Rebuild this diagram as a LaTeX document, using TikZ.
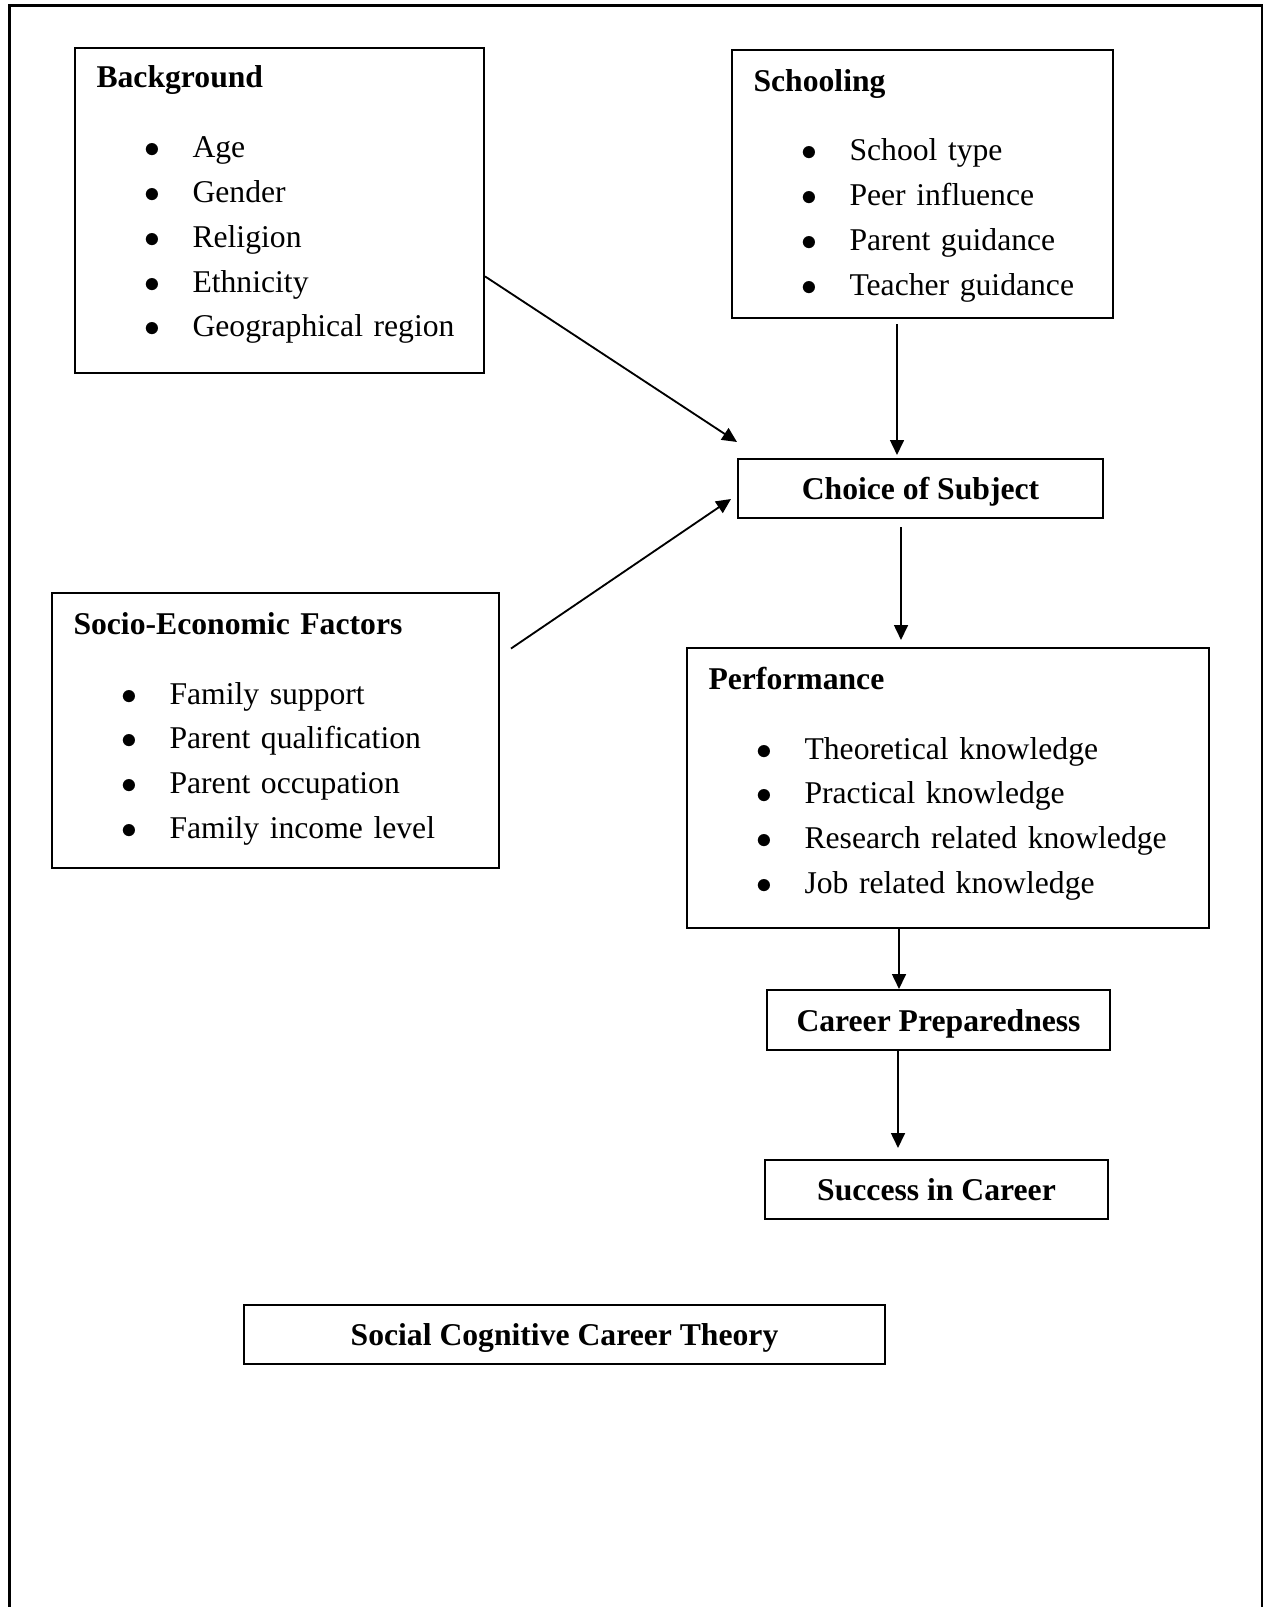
\documentclass[tikz,border=0pt]{standalone}
\usepackage{fontspec}
\setmainfont{Liberation Serif}
\usetikzlibrary{arrows.meta}

\newdimen\px \px=0.379pt
\newcommand{\bitem}[1]{\hspace*{48\px}\makebox[48\px][l]{$\bullet$}#1}

\begin{document}
\begin{tikzpicture}[
    x=0.379pt, y=-0.379pt,
    >={Triangle[length=5.6pt, width=5.2pt]},
    every node/.style={font=\fontsize{12pt}{16.94pt}\selectfont},
    listbox/.style = {rectangle, draw=black, line width=0.76pt,
anchor=north west, align=left, inner xsep=21.5\px, inner ysep=0pt},
    labelbox/.style = {rectangle, draw=black, line width=0.76pt,
anchor=north west, inner sep=0pt, text height=8.6pt, text depth=0pt,
font=\fontsize{12pt}{16.94pt}\selectfont\bfseries},
    link/.style = {->, line width=0.7pt}
]
  \useasboundingbox (0,0) rectangle (1264,1607);
  \draw[line width=1pt] (9.5,1607) -- (9.5,5.5) -- (1262,5.5) -- (1262,1607);

  \node (background) [listbox, text width=366\px] at (74,47) {\rule{0pt}{40\px}\textbf{Background}\\[25.3\px]
    \bitem{Age}\\ \bitem{Gender}\\ \bitem{Religion}\\ \bitem{Ethnicity}\\
    \bitem{Geographical region}\rule[-36\px]{0pt}{36\px}};
  \node (school) [listbox, text width=338\px] at (731,49) {\rule{0pt}{42\px}\textbf{Schooling}\\[24.3\px]
    \bitem{School type}\\ \bitem{Peer influence}\\ \bitem{Parent guidance}\\
    \bitem{Teacher guidance}\rule[-23\px]{0pt}{23\px}};
  \node (socio) [listbox, text width=404\px] at (51,592) {\rule{0pt}{41\px}\textbf{Socio-Economic Factors}\\[25.3\px]
    \bitem{Family support}\\ \bitem{Parent qualification}\\ \bitem{Parent occupation}\\
    \bitem{Family income level}\rule[-30\px]{0pt}{30\px}};
  \node (perf) [listbox, text width=479\px] at (686,647) {\rule{0pt}{41\px}\textbf{Performance}\\[25.3\px]
    \bitem{Theoretical knowledge}\\ \bitem{Practical knowledge}\\ \bitem{Research related knowledge}\\
    \bitem{Job related knowledge}\rule[-35\px]{0pt}{35\px}};

  \node (choice) [labelbox, minimum width=365\px, minimum height=59\px] at (737,458) {Choice of Subject};
  \node (career) [labelbox, minimum width=343\px, minimum height=60\px] at (766,989) {Career Preparedness};
  \node (success) [labelbox, minimum width=343\px, minimum height=59\px] at (764,1159) {Success in Career};
  \node (theory) [labelbox, minimum width=641\px, minimum height=59\px] at (243,1304) {Social Cognitive Career Theory};

  \draw[link] ([yshift=-66\px]background.east) -- ([yshift=16\px]choice.north west);
  \draw[link] ([xshift=11\px, yshift=82\px]socio.east) -- ([xshift=-6\px, yshift=-10.5\px]choice.west);
  \draw[link, shorten <=5\px, shorten >=3\px] ([xshift=-25.5\px]school.south) -- ([xshift=-23.5\px]choice.north);
  \draw[link, shorten <=8\px, shorten >=7\px] ([xshift=-19.5\px]choice.south) -- ([xshift=-47\px]perf.north);
  \draw[link] ([xshift=-49\px]perf.south) -- ([xshift=-39.5\px]career.north);
  \draw[link, shorten >=11\px] ([xshift=-40.5\px]career.south) -- ([xshift=-38.5\px]success.north);

\end{tikzpicture}
\end{document}
